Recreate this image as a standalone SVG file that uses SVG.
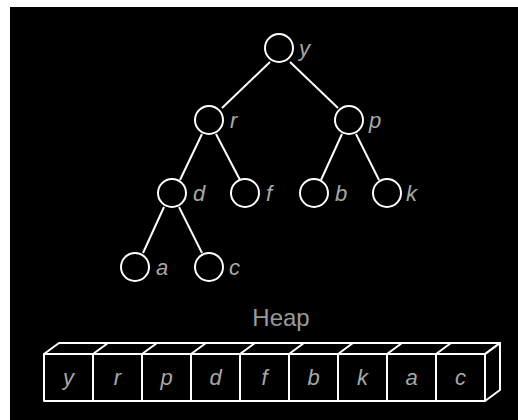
<svg xmlns="http://www.w3.org/2000/svg" width="518" height="420" viewBox="0 0 518 420">
<style>
.n{fill:#000;stroke:#fff;stroke-width:2}
.e{stroke:#fff;stroke-width:2;fill:none}
.l{font-family:"Liberation Sans",Arial,sans-serif;font-style:italic;font-size:22px;fill:#a8a8a8}
.c{font-family:"Liberation Sans",Arial,sans-serif;font-style:italic;font-size:22px;fill:#a8a8a8;text-anchor:middle}
.h{font-family:"Liberation Sans",Arial,sans-serif;font-size:24px;fill:#9a9a9a;text-anchor:middle}
.b{fill:none;stroke:#fff;stroke-width:2;stroke-linejoin:round}
</style>
<rect x="0" y="0" width="518" height="420" fill="#fff"/>
<rect x="10" y="7" width="508" height="413" fill="#000"/>
<g id="connectors">
<line class="e" x1="270" y1="62" x2="222" y2="108"/>
<line class="e" x1="290" y1="62" x2="338" y2="108"/>
<line class="e" x1="202" y1="134" x2="180" y2="180"/>
<line class="e" x1="216" y1="134" x2="240" y2="180"/>
<line class="e" x1="342" y1="134" x2="321" y2="180"/>
<line class="e" x1="356" y1="134" x2="379" y2="180"/>
<line class="e" x1="164" y1="207" x2="143" y2="253"/>
<line class="e" x1="179" y1="207" x2="202" y2="253"/>
</g>
<g id="node-y"><circle class="n" cx="279" cy="48" r="14"/><text class="l" x="299" y="56">y</text></g>
<g id="node-r"><circle class="n" cx="209" cy="120" r="14"/><text class="l" x="230" y="128">r</text></g>
<g id="node-p"><circle class="n" cx="349" cy="120" r="14"/><text class="l" x="369" y="128">p</text></g>
<g id="node-d"><circle class="n" cx="172" cy="193" r="14"/><text class="l" x="193" y="201">d</text></g>
<g id="node-f"><circle class="n" cx="245" cy="193" r="14"/><text class="l" x="266" y="201">f</text></g>
<g id="node-b"><circle class="n" cx="314" cy="193" r="14"/><text class="l" x="335" y="201">b</text></g>
<g id="node-k"><circle class="n" cx="387" cy="193" r="14"/><text class="l" x="406" y="201">k</text></g>
<g id="node-a"><circle class="n" cx="135" cy="267" r="14"/><text class="l" x="156" y="275">a</text></g>
<g id="node-c"><circle class="n" cx="209" cy="267" r="14"/><text class="l" x="229" y="275">c</text></g>
<g id="heap-label"><text class="h" x="281" y="326">Heap</text></g>
<g id="heap-array">
<polygon class="b" points="44,354 59,343 500,343 485,354"/>
<polygon class="b" points="485,354 500,343 500,390 485,401"/>
<rect class="b" x="44" y="354" width="441" height="47"/>
<path class="b" d="M93,354V401M142,354V401M191,354V401M240,354V401M289,354V401M338,354V401M387,354V401M436,354V401"/>
<path class="b" d="M93,354L108,343M142,354L157,343M191,354L206,343M240,354L255,343M289,354L304,343M338,354L353,343M387,354L402,343M436,354L451,343"/>
<text class="c" x="68.5" y="385">y</text>
<text class="c" x="117.5" y="385">r</text>
<text class="c" x="166.5" y="385">p</text>
<text class="c" x="215.5" y="385">d</text>
<text class="c" x="264.5" y="385">f</text>
<text class="c" x="313.5" y="385">b</text>
<text class="c" x="362.5" y="385">k</text>
<text class="c" x="411.5" y="385">a</text>
<text class="c" x="460.5" y="385">c</text>
</g>
</svg>
